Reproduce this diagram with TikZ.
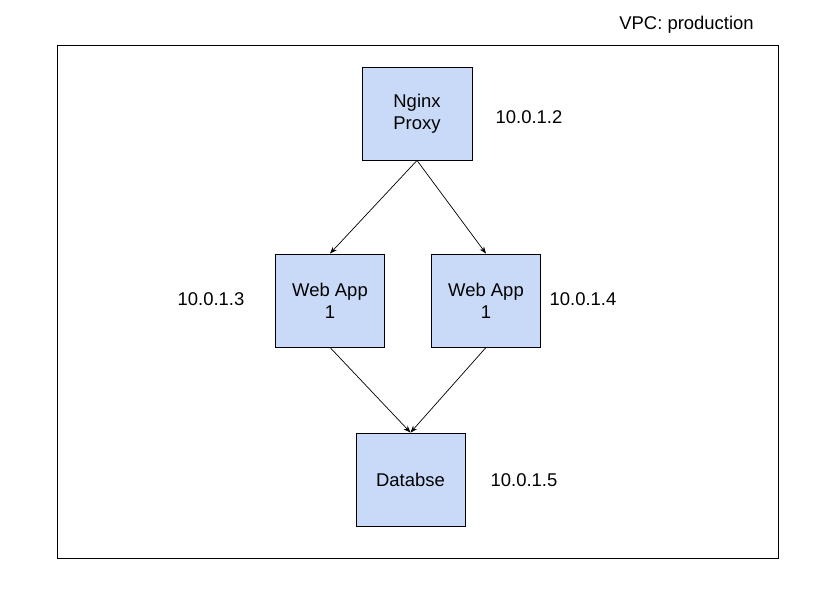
\documentclass[tikz,border=0pt]{standalone}
\usepackage{fontspec}
\setmainfont{Liberation Sans}
\usetikzlibrary{arrows.meta}

\begin{document}
\begin{tikzpicture}[x=0.02cm, y=-0.02cm,
	server/.style={rectangle,
		draw = black,
		text = black,
		fill = {rgb,255:red,201;green,218;blue,248},
		align=center,
		line width=0.5pt,
		minimum width = 2.18cm,
		minimum height = 1.86cm},
	ipaddr/.style={text = black},
	link/.style={-{Stealth[length=4pt,width=3pt]}, line width=0.4pt},
	font=\fontsize{10.5}{12.4}\selectfont]
	
	\useasboundingbox (0,0) rectangle (827,615);
	
	% VPC frame
	\draw[line width=0.5pt] (57,45) rectangle (778,558);
	\node[ipaddr] (vpc) at (686.5,24.5) {VPC: production};
	
	\node[server, minimum width = 2.2cm] (nginx) at (417,113.5) {Nginx\\Proxy};
	\node[server] (web1) at (330,300.5) {Web App\\1};
	\node[server] (web2) at (486,300.5) {Web App\\1};
	\node[server] (db) at (410.5,479.5) {Databse};
	
	\node[ipaddr] (ip2) at (529,117) {10.0.1.2};
	\node[ipaddr] (ip3) at (211,299) {10.0.1.3};
	\node[ipaddr] (ip4) at (583,299) {10.0.1.4};
	\node[ipaddr] (ip5) at (524,480) {10.0.1.5};
	
	\draw[link] (nginx.south) to (web1.north);
	\draw[link] (nginx.south) to (web2.north);
	\draw[link] (web1.south) to (db.north);
	\draw[link] (web2.south) to (db.north);
	
\end{tikzpicture}
\end{document}
